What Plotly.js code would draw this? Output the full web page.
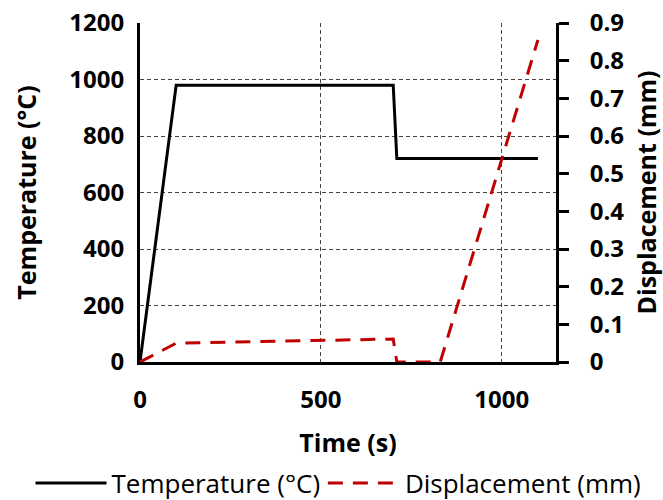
<!DOCTYPE html>
<html>
<head>
<meta charset="utf-8">
<script src="https://cdn.plot.ly/plotly-3.0.1.min.js"></script>
<style>html,body{margin:0;padding:0;background:#fff;}#chart{width:663px;height:500px;}</style>
</head>
<body>
<div id="chart"></div>
<script>
// Data
var timeTemp = [0, 100, 700, 710, 1100];
var temperature = [0, 980, 980, 720, 720];
var timeDisp = [0, 100, 700, 710, 830, 1000, 1100];
var displacement = [0, 0.05, 0.061, 0, 0, 0.54, 0.855];
var xTicks = [0, 500, 1000];
var yTicks = [0, 200, 400, 600, 800, 1000, 1200];
var y2Ticks = [0, 0.1, 0.2, 0.3, 0.4, 0.5, 0.6, 0.7, 0.8, 0.9];
var y2TickText = ['0', '0.1', '0.2', '0.3', '0.4', '0.5', '0.6', '0.7', '0.8', '0.9'];

var FONT = '"Open Sans", Lato, sans-serif';

var traces = [
  {
    x: timeTemp, y: temperature, type: 'scatter', mode: 'lines',
    name: 'Temperature (°C)',
    line: {color: '#000000', width: 3},
    yaxis: 'y', legend: 'legend'
  },
  {
    x: timeDisp, y: displacement, type: 'scatter', mode: 'lines',
    name: 'Displacement (mm)',
    line: {color: '#C00000', width: 3, dash: '15px,10px'},
    yaxis: 'y2', legend: 'legend2'
  }
];

var gridCol = '#444444';
var legFont = {family: FONT, size: 26, color: '#000'};
var tickFont = {family: FONT, size: 24, color: '#000', weight: 'bold'};
var titleFont = {family: FONT, size: 25, color: '#000'};
var layout = {
  width: 663, height: 500,
  margin: {l: 140, r: 107, t: 23, b: 138, pad: 0},
  paper_bgcolor: '#ffffff', plot_bgcolor: '#ffffff',
  font: {family: FONT, color: '#000000'},
  showlegend: true,
  legend: {
    orientation: 'h', xref: 'container', yref: 'container',
    x: 0.046, xanchor: 'left', y: 0.034, yanchor: 'middle',
    font: legFont, itemwidth: 71, bgcolor: 'rgba(0,0,0,0)', borderwidth: 0
  },
  legend2: {
    orientation: 'h', xref: 'container', yref: 'container',
    x: 0.487, xanchor: 'left', y: 0.034, yanchor: 'middle',
    font: legFont, itemwidth: 72, bgcolor: 'rgba(0,0,0,0)', borderwidth: 0
  },
  xaxis: {
    range: [0, 1150], tickvals: xTicks, ticks: '',
    showgrid: true, gridcolor: gridCol, gridwidth: 1, griddash: '4px,3px',
    zeroline: false, showline: true, linecolor: '#000', linewidth: 3,
    tickfont: tickFont,
    ticklabelstandoff: 14,
    title: {text: '<b>Time (s)</b>', font: titleFont, standoff: 28}
  },
  yaxis: {
    range: [0, 1200], tickvals: yTicks, ticks: '',
    showgrid: true, gridcolor: gridCol, gridwidth: 1, griddash: '4px,3px',
    zeroline: false, showline: true, linecolor: '#000', linewidth: 3,
    tickfont: tickFont,
    ticklabelstandoff: 8,
    title: {text: '<b>Temperature (°C)</b>', font: titleFont, standoff: 26}
  },
  yaxis2: {
    range: [0, 0.9], tickvals: y2Ticks, ticktext: y2TickText,
    overlaying: 'y', side: 'right', anchor: 'x',
    ticks: 'outside', ticklen: 10, tickwidth: 3, tickcolor: '#000',
    showgrid: false, zeroline: false, showline: true, linecolor: '#000', linewidth: 3,
    tickfont: tickFont,
    ticklabelstandoff: 16,
    title: {text: '<b>Displacement (mm)</b>', font: titleFont, standoff: 16}
  }
};

Plotly.newPlot('chart', traces, layout, {displayModeBar: false, staticPlot: true});
</script>
</body>
</html>
